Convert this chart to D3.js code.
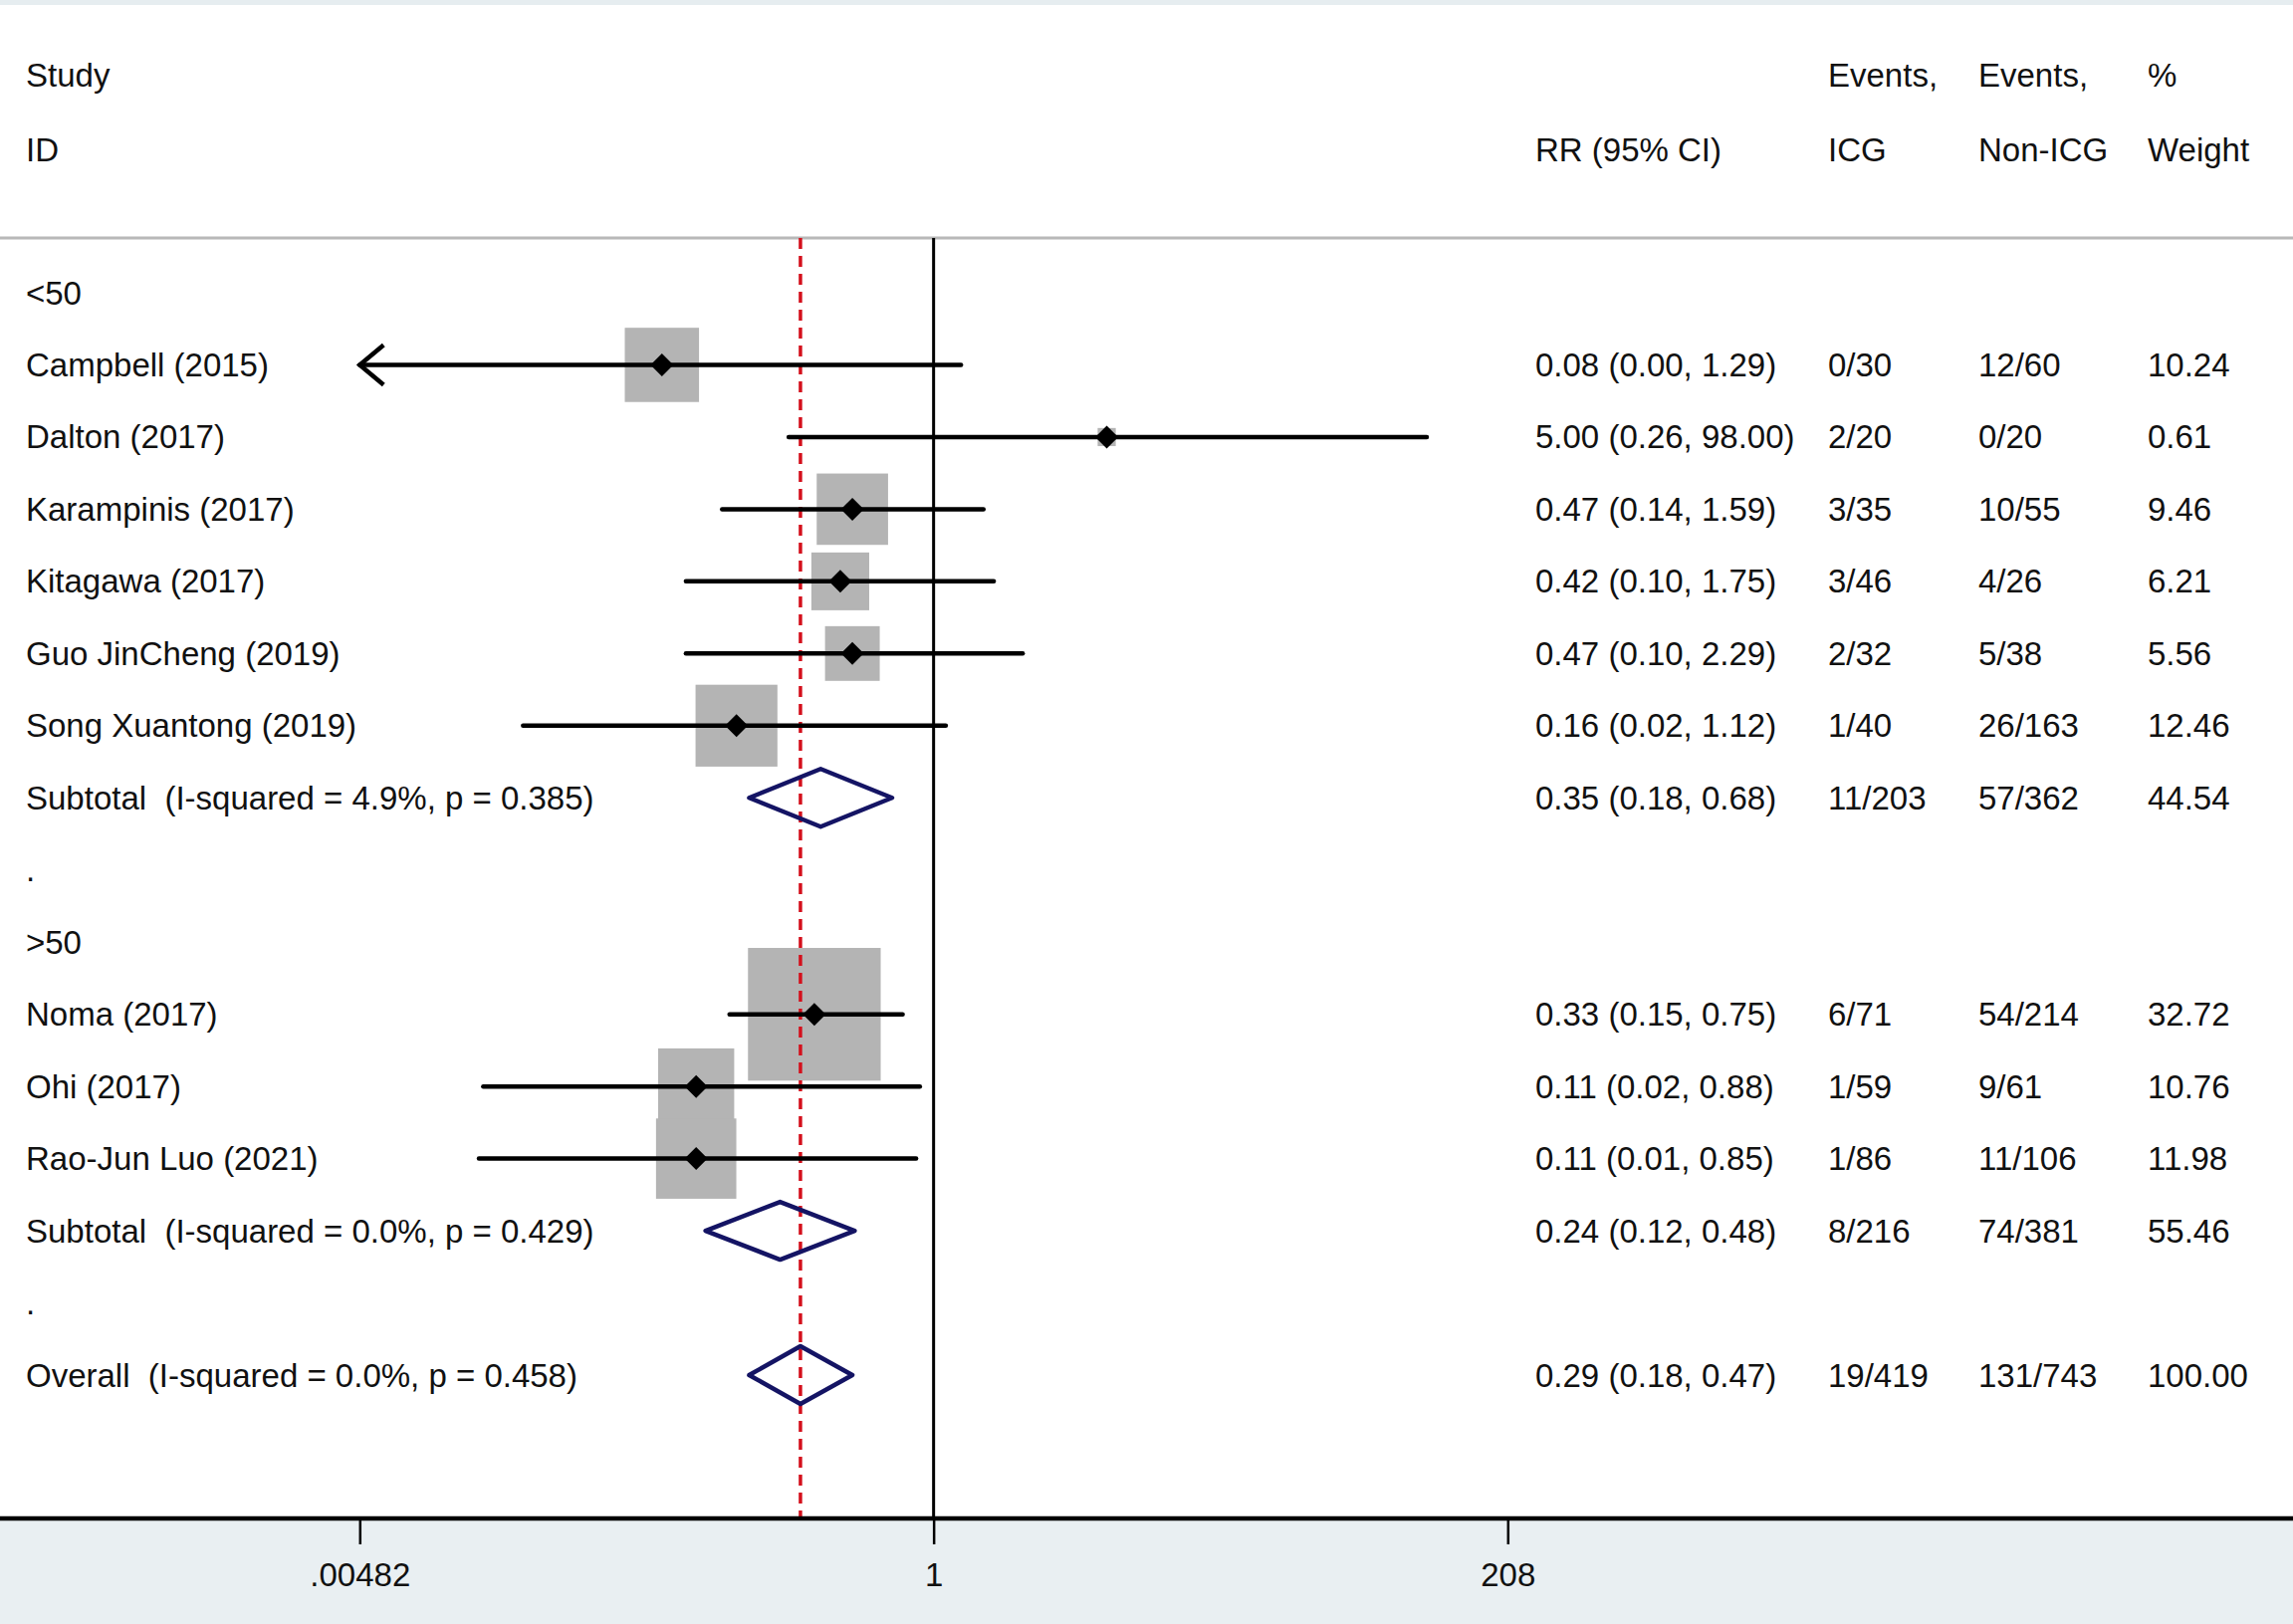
<!DOCTYPE html>
<html><head><meta charset="utf-8">
<script src="https://cdn.jsdelivr.net/npm/d3@7"></script>
<style>
html,body{margin:0;padding:0;background:#fff}
svg{display:block}
text{font-family:"Liberation Sans",Arial,sans-serif;font-size:33px;fill:#111;white-space:pre}
</style>
</head><body>
<svg id="c" width="2303" height="1631"></svg>
<script>
// ---------- data ----------
const rowLabels = ["<50","Campbell (2015)","Dalton (2017)","Karampinis (2017)","Kitagawa (2017)","Guo JinCheng (2019)","Song Xuantong (2019)","Subtotal  (I-squared = 4.9%, p = 0.385)",".",">50","Noma (2017)","Ohi (2017)","Rao-Jun Luo (2021)","Subtotal  (I-squared = 0.0%, p = 0.429)",".","Overall  (I-squared = 0.0%, p = 0.458)"];
const rowKind = ["group","study","study","study","study","study","study","pooled","blank","group","study","study","study","pooled","blank","pooled"];
const rrValues = [null,0.08,5.00,0.47,0.42,0.47,0.16,0.35,null,null,0.33,0.11,0.11,0.24,null,0.29];
const ciLower  = [null,0.00,0.26,0.14,0.10,0.10,0.022,0.18,null,null,0.15,0.0152,0.0146,0.12,null,0.18];
const ciUpper  = [null,1.29,98.00,1.59,1.75,2.29,1.12,0.68,null,null,0.75,0.88,0.85,0.48,null,0.47];
const ciText   = ["","0.08 (0.00, 1.29)","5.00 (0.26, 98.00)","0.47 (0.14, 1.59)","0.42 (0.10, 1.75)","0.47 (0.10, 2.29)","0.16 (0.02, 1.12)","0.35 (0.18, 0.68)","","","0.33 (0.15, 0.75)","0.11 (0.02, 0.88)","0.11 (0.01, 0.85)","0.24 (0.12, 0.48)","","0.29 (0.18, 0.47)"];
const eventsICG    = ["","0/30","2/20","3/35","3/46","2/32","1/40","11/203","","","6/71","1/59","1/86","8/216","","19/419"];
const eventsNonICG = ["","12/60","0/20","10/55","4/26","5/38","26/163","57/362","","","54/214","9/61","11/106","74/381","","131/743"];
const weights  = [null,10.24,0.61,9.46,6.21,5.56,12.46,44.54,null,null,32.72,10.76,11.98,55.46,null,100.00];
const tickValues = [0.00482, 1, 208];
const tickLabels = [".00482", "1", "208"];
const overallRR = 0.29;
const headerTop = ["Study","","Events,","Events,","%"];
const headerBottom = ["ID","RR (95% CI)","ICG","Non-ICG","Weight"];

// ---------- layout ----------
const W = 2303, H = 1631;
const svg = d3.select("#c");
const colX = [26, 1542, 1836, 1987, 2157];
const sepY = 239, axisY = 1525;
const x = d3.scaleLog().domain([tickValues[0], tickValues[2]]).range([361.3, 1514.3]);
const y = d3.scaleLinear().domain([0, rowLabels.length - 1]).range([294, 1381]);
const boxSide = d3.scaleSqrt().domain([0, 100]).range([0, 233]);
const xmin = x.domain()[0];

// background bands
svg.append("rect").attr("x",0).attr("y",0).attr("width",W).attr("height",5).attr("fill","#e6edf0");
svg.append("rect").attr("x",0).attr("y",axisY).attr("width",W).attr("height",H-axisY).attr("fill","#e9eff2");

// header
const hdr = svg.append("g");
headerTop.forEach((t,i)=>{ if(t) hdr.append("text").attr("x",colX[i]).attr("y",75).attr("dy","0.35em").text(t); });
headerBottom.forEach((t,i)=>{ hdr.append("text").attr("x",colX[i]).attr("y",150).attr("dy","0.35em").text(t); });

// separator
svg.append("line").attr("x1",0).attr("x2",W).attr("y1",sepY).attr("y2",sepY).attr("stroke","#b8b8b8").attr("stroke-width",3);

// null line at 1
svg.append("line").attr("x1",x(1)).attr("x2",x(1)).attr("y1",sepY).attr("y2",axisY).attr("stroke","#000").attr("stroke-width",3);

const idx = d3.range(rowLabels.length);
const studies = idx.filter(i=>rowKind[i]==="study");
const pooled = idx.filter(i=>rowKind[i]==="pooled");

// boxes
svg.append("g").selectAll("rect").data(studies).join("rect")
  .attr("x",i=>x(rrValues[i]) - boxSide(weights[i])/2)
  .attr("y",i=>y(i) - boxSide(weights[i])/2)
  .attr("width",i=>boxSide(weights[i]))
  .attr("height",i=>boxSide(weights[i]))
  .attr("fill","#b4b4b4");

// overall dashed line
svg.append("line").attr("x1",x(overallRR)).attr("x2",x(overallRR)).attr("y1",sepY).attr("y2",axisY)
  .attr("stroke","#d4101c").attr("stroke-width",3.5).attr("stroke-dasharray","11,7");

// CI lines
svg.append("g").selectAll("line").data(studies).join("line")
  .attr("x1",i=>x(Math.max(ciLower[i], xmin)))
  .attr("x2",i=>x(ciUpper[i]))
  .attr("y1",i=>y(i)).attr("y2",i=>y(i))
  .attr("stroke","#000").attr("stroke-width",4.5).attr("stroke-linecap","round");

// arrows for truncated CIs
svg.append("g").selectAll("path").data(studies.filter(i=>ciLower[i] < xmin)).join("path")
  .attr("d",i=>{const tx=x(xmin), ty=y(i); return `M${tx+24},${ty-20} L${tx},${ty} L${tx+24},${ty+20}`;})
  .attr("fill","none").attr("stroke","#000").attr("stroke-width",4.5);

// point diamonds
svg.append("g").selectAll("path").data(studies).join("path")
  .attr("d",i=>{const cx=x(rrValues[i]), cy=y(i), r=11.5; return `M${cx-r},${cy} L${cx},${cy-r} L${cx+r},${cy} L${cx},${cy+r}Z`;})
  .attr("fill","#000");

// pooled diamonds
svg.append("g").selectAll("path").data(pooled).join("path")
  .attr("d",i=>{const cy=y(i), h=29; return `M${x(ciLower[i])},${cy} L${x(rrValues[i])},${cy-h} L${x(ciUpper[i])},${cy} L${x(rrValues[i])},${cy+h}Z`;})
  .attr("fill","none").attr("stroke","#141464").attr("stroke-width",4.5).attr("stroke-linejoin","round");

// row texts
const txt = svg.append("g");
const cols = [rowLabels, ciText, eventsICG, eventsNonICG, weights.map(w=>w==null?"":w.toFixed(2))];
cols.forEach((arr,c)=>{
  txt.append("g").selectAll("text").data(idx).join("text")
    .attr("x",colX[c]).attr("y",i=>y(i)).attr("dy","0.35em")
    .text(i=>arr[i]);
});

// axis
svg.append("line").attr("x1",0).attr("x2",W).attr("y1",axisY).attr("y2",axisY).attr("stroke","#000").attr("stroke-width",4.5);
const ax = svg.append("g").attr("transform",`translate(0,${axisY})`)
  .call(d3.axisBottom(x).tickValues(tickValues).tickFormat((d,i)=>tickLabels[i]).tickSize(26).tickPadding(19));
ax.select(".domain").remove();
ax.selectAll(".tick line").attr("stroke","#000").attr("stroke-width",2.5);
ax.selectAll(".tick text").attr("fill","#111").style("font-size","33px").style("font-family","'Liberation Sans',Arial,sans-serif");
</script>
</body></html>
